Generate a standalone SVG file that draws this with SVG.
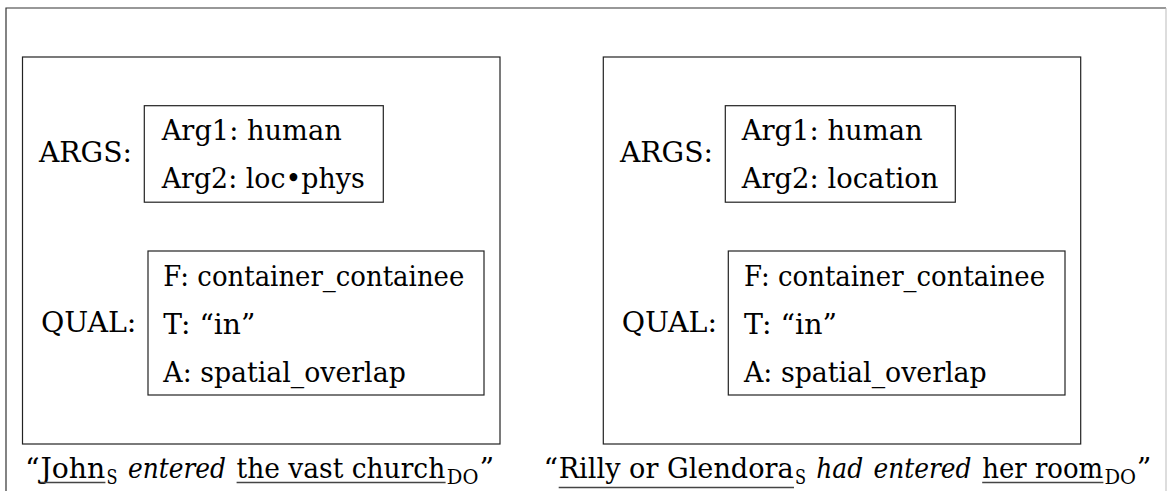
<svg xmlns="http://www.w3.org/2000/svg" width="1168" height="491" viewBox="0 0 1168 491">
  <style>
    .t { font-family: "DejaVu Serif", "Liberation Serif", serif; font-size: 28px; fill: #000; }
    .c { font-family: "DejaVu Serif", "Liberation Serif", serif; font-size: 28.6px; fill: #000; }
    .sub { font-family: "DejaVu Serif", "Liberation Serif", serif; font-size: 19.5px; fill: #000; }
    .it { font-style: italic; }
    .box { fill: none; stroke: #222; stroke-width: 1.2; }
    .ul { stroke: #444; stroke-width: 1.3; }
  </style>
  <rect width="1168" height="491" fill="#fff"/>

  <!-- page frame -->
  <g id="frame">
    <path d="M6,491 V8 H1166" fill="none" stroke="#333" stroke-width="1.2"/>
    <path d="M1166,8 V491" fill="none" stroke="#bbb" stroke-width="1"/>
  </g>

  <!-- left panel: "entered" with loc•phys object -->
  <g id="panel-left">
    <rect class="box" x="22.5" y="57" width="477.5" height="387"/>
    <g id="args-left">
      <text class="t" x="39" y="161.5" textLength="93" lengthAdjust="spacingAndGlyphs">ARGS:</text>
      <rect class="box" x="144.3" y="105.7" width="239" height="96.5"/>
      <text class="t" x="161.7" y="139.5" textLength="180" lengthAdjust="spacingAndGlyphs">Arg1: human</text>
      <text class="t" x="161.7" y="187.5" textLength="203" lengthAdjust="spacingAndGlyphs">Arg2: loc•phys</text>
    </g>
    <g id="qual-left">
      <text class="t" x="41" y="332" textLength="95.4" lengthAdjust="spacingAndGlyphs">QUAL:</text>
      <rect class="box" x="148" y="251" width="336" height="144"/>
      <text class="t" x="163.3" y="285.5" textLength="301" lengthAdjust="spacingAndGlyphs">F: container_containee</text>
      <text class="t" x="163.3" y="333.5" textLength="92" lengthAdjust="spacingAndGlyphs">T: “in”</text>
      <text class="t" x="163.3" y="381.5" textLength="242.5" lengthAdjust="spacingAndGlyphs">A: spatial_overlap</text>
    </g>
  </g>

  <!-- right panel: "had entered" with location object -->
  <g id="panel-right">
    <rect class="box" x="603.3" y="57" width="477.4" height="387"/>
    <g id="args-right">
      <text class="t" x="620" y="161.5" textLength="93" lengthAdjust="spacingAndGlyphs">ARGS:</text>
      <rect class="box" x="725.3" y="105.7" width="230" height="96.5"/>
      <text class="t" x="741.7" y="139.5" textLength="181" lengthAdjust="spacingAndGlyphs">Arg1: human</text>
      <text class="t" x="741.7" y="187.5" textLength="196.6" lengthAdjust="spacingAndGlyphs">Arg2: location</text>
    </g>
    <g id="qual-right">
      <text class="t" x="621.7" y="332" textLength="95.4" lengthAdjust="spacingAndGlyphs">QUAL:</text>
      <rect class="box" x="728.3" y="251" width="336.7" height="144"/>
      <text class="t" x="744" y="285.5" textLength="301" lengthAdjust="spacingAndGlyphs">F: container_containee</text>
      <text class="t" x="744" y="333.5" textLength="93" lengthAdjust="spacingAndGlyphs">T: “in”</text>
      <text class="t" x="744" y="381.5" textLength="242.7" lengthAdjust="spacingAndGlyphs">A: spatial_overlap</text>
    </g>
  </g>

  <!-- example sentences: subject (S) and direct object (DO) underlined -->
  <g id="caption-left">
    <text class="c" x="25" y="478">“</text>
    <text class="c" x="40.4" y="478" textLength="64.8" lengthAdjust="spacingAndGlyphs">John</text>
    <line class="ul" x1="40.4" y1="482.5" x2="105.4" y2="482.5"/>
    <text class="sub" x="106.5" y="483.5" textLength="11" lengthAdjust="spacingAndGlyphs">S</text>
    <text class="c it" x="128" y="478" textLength="98" lengthAdjust="spacingAndGlyphs">entered</text>
    <text class="c" x="236.6" y="478" textLength="208.6" lengthAdjust="spacingAndGlyphs">the vast church</text>
    <line class="ul" x1="236.6" y1="482.5" x2="445.6" y2="482.5"/>
    <text class="sub" x="446.8" y="483.5" textLength="31.6" lengthAdjust="spacingAndGlyphs">DO</text>
    <text class="c" x="479.5" y="478">”</text>
  </g>
  <g id="caption-right">
    <text class="c" x="543.4" y="478">“</text>
    <text class="c" x="558.7" y="478" textLength="235" lengthAdjust="spacingAndGlyphs">Rilly or Glendora</text>
    <line class="ul" x1="558.7" y1="487.5" x2="794" y2="487.5"/>
    <text class="sub" x="795" y="483.5" textLength="11" lengthAdjust="spacingAndGlyphs">S</text>
    <text class="c it" x="816.2" y="478" textLength="47" lengthAdjust="spacingAndGlyphs">had</text>
    <text class="c it" x="873.5" y="478" textLength="98" lengthAdjust="spacingAndGlyphs">entered</text>
    <text class="c" x="982.2" y="478" textLength="121" lengthAdjust="spacingAndGlyphs">her room</text>
    <line class="ul" x1="982.2" y1="482.5" x2="1103.4" y2="482.5"/>
    <text class="sub" x="1104.4" y="483.5" textLength="31.6" lengthAdjust="spacingAndGlyphs">DO</text>
    <text class="c" x="1136.8" y="478">”</text>
  </g>
</svg>
